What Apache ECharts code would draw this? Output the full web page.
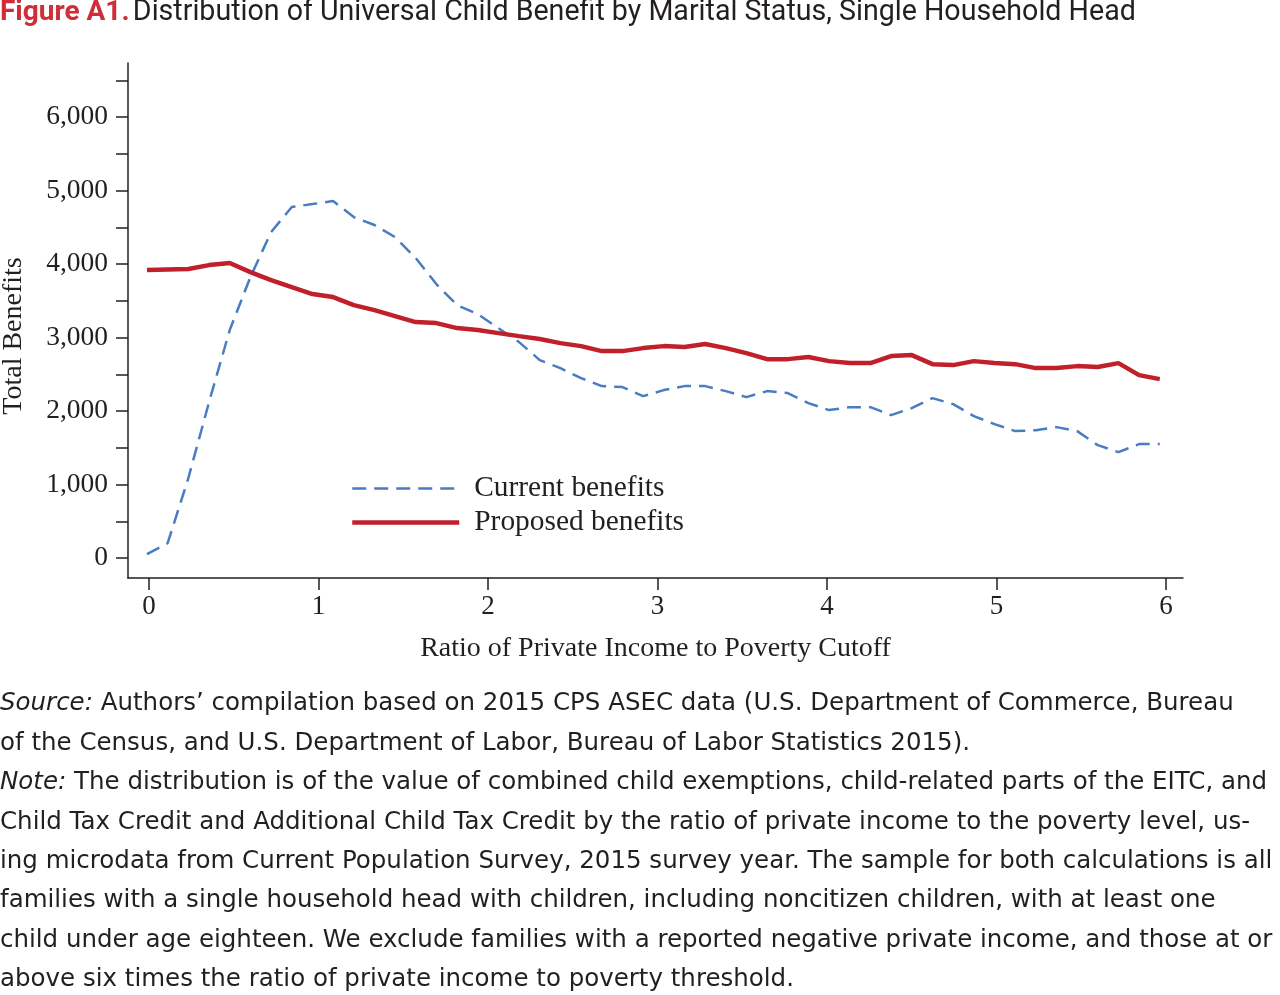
<!DOCTYPE html>
<html>
<head>
<meta charset="utf-8">
<script src="https://cdn.jsdelivr.net/npm/echarts@6/dist/echarts.min.js"></script>
<style>
html,body{margin:0;padding:0;background:#fff;}
#chart{width:1280px;height:995px;}
</style>
</head>
<body>
<div id="chart"></div>
<script>
// Ratio of private income to poverty cutoff (x positions of the plotted bins)
const ratio = [-0.012,0.110,0.232,0.354,0.476,0.598,0.720,0.842,0.964,1.086,
  1.208,1.330,1.451,1.573,1.695,1.817,1.939,2.061,2.183,2.305,
  2.427,2.549,2.671,2.793,2.915,3.037,3.159,3.281,3.403,3.524,
  3.646,3.768,3.890,4.012,4.134,4.256,4.378,4.500,4.622,4.744,
  4.866,4.988,5.110,5.232,5.354,5.476,5.597,5.719,5.841,5.963];
const currentBenefits = [54,204,1088,2122,3102,3823,4435,4776,4816,4857,
  4639,4531,4367,4082,3728,3442,3320,3129,2939,2694,
  2585,2449,2340,2327,2204,2286,2340,2340,2272,2190,
  2272,2245,2109,2014,2054,2054,1946,2041,2177,2095,
  1932,1823,1728,1741,1782,1728,1537,1442,1551,1551];
const proposedBenefits = [3918,3925,3932,3986,4014,3891,3782,3687,3592,3551,
  3442,3374,3293,3211,3197,3129,3102,3061,3020,2980,
  2925,2884,2816,2816,2857,2884,2871,2912,2857,2789,
  2707,2707,2735,2680,2653,2653,2748,2762,2639,2626,
  2680,2653,2639,2585,2585,2612,2599,2653,2490,2435];
const xTicks = [0,1,2,3,4,5,6];
const yLabels = [0,1000,2000,3000,4000,5000,6000];
const yTicks = [0,500,1000,1500,2000,2500,3000,3500,4000,4500,5000,5500,6000,6500];
const seriesNames = ['Current benefits','Proposed benefits'];
const titleBold = 'Figure A1.';
const titleText = 'Distribution of Universal Child Benefit by Marital Status, Single Household Head';
const xName = 'Ratio of Private Income to Poverty Cutoff';
const yName = 'Total Benefits';
const noteLines = [
  ['Source:', ' Authors’ compilation based on 2015 CPS ASEC data (U.S. Department of Commerce, Bureau'],
  ['', 'of the Census, and U.S. Department of Labor, Bureau of Labor Statistics 2015).'],
  ['Note:', ' The distribution is of the value of combined child exemptions, child-related parts of the EITC, and'],
  ['', 'Child Tax Credit and Additional Child Tax Credit by the ratio of private income to the poverty level, us-'],
  ['', 'ing microdata from Current Population Survey, 2015 survey year. The sample for both calculations is all'],
  ['', 'families with a single household head with children, including noncitizen children, with at least one'],
  ['', 'child under age eighteen. We exclude families with a reported negative private income, and those at or'],
  ['', 'above six times the ratio of private income to poverty threshold.']
];

const serif = '"Liberation Serif", "DejaVu Serif", serif';
const sans = '"DejaVu Sans", "Open Sans", sans-serif';
const titleSans = 'Roboto, "Noto Sans", sans-serif';

const chart = echarts.init(document.getElementById('chart'), null, {renderer:'canvas'});

const noteGraphics = noteLines.map((l, i) => ({
  type: 'text',
  x: 0,
  y: 704 + i * 39.4,
  style: {
    text: (l[0] ? '{i|' + l[0] + '}' : '') + '{n|' + l[1] + '}',
    verticalAlign: 'middle',
    rich: {
      i: {fontFamily: sans, fontSize: 24.5, fontStyle: 'italic', fill: '#231f20'},
      n: {fontFamily: sans, fontSize: 24.5, fill: '#231f20'}
    }
  }
}));

chart.setOption({
  animation: false,
  backgroundColor: '#fff',
  grid: {left: 128, right: 97, top: 63, bottom: 417, containLabel: false, outerBoundsMode: 'none'},
  legend: {
    orient: 'vertical',
    left: 350, top: 474,
    padding: 0,
    itemWidth: 107, itemHeight: 14, itemGap: 5,
    itemStyle: {color: 'rgba(0,0,0,0)', borderWidth: 0, opacity: 0},
    lineStyle: {width: 'inherit'},
    textStyle: {fontFamily: serif, fontSize: 29.4, color: '#231f20', padding: [0,0,0,10]},
    data: seriesNames
  },
  xAxis: {
    type: 'value',
    min: -0.124, max: 6.1,
    name: xName, nameLocation: 'middle', nameGap: 57, nameMoveOverlap: false,
    nameTextStyle: {fontFamily: serif, fontSize: 28, color: '#231f20'},
    axisLine: {show: true, onZero: false, lineStyle: {color: '#231f20', width: 1.5}},
    axisTick: {show: true, length: 12, lineStyle: {color: '#231f20', width: 1.5}, customValues: xTicks},
    axisLabel: {fontFamily: serif, fontSize: 27, color: '#231f20', margin: 15, customValues: xTicks},
    splitLine: {show: false}
  },
  yAxis: {
    type: 'value',
    min: -270, max: 6735,
    axisLine: {show: true, onZero: false, lineStyle: {color: '#231f20', width: 1.5}},
    axisTick: {show: true, length: 12, lineStyle: {color: '#231f20', width: 1.5}, customValues: yTicks},
    axisLabel: {fontFamily: serif, fontSize: 27.5, color: '#231f20', margin: 20, customValues: yLabels,
      formatter: v => v.toLocaleString('en-US')},
    splitLine: {show: false}
  },
  series: [
    {
      name: seriesNames[0], type: 'line', symbol: 'none',
      data: ratio.map((x, i) => [x, currentBenefits[i]]),
      lineStyle: {color: '#4a7cc0', width: 2.5, type: [14, 8]},
      itemStyle: {color: '#4a7cc0'},
      z: 2
    },
    {
      name: seriesNames[1], type: 'line', symbol: 'none',
      data: ratio.map((x, i) => [x, proposedBenefits[i]]),
      lineStyle: {color: '#c1202b', width: 4.5},
      itemStyle: {color: '#c1202b'},
      z: 3
    }
  ],
  graphic: [{
    type: 'text', x: 0, y: 13,
    style: {
      text: '{a|' + titleBold + '} {b|' + titleText + '}',
      verticalAlign: 'middle',
      rich: {
        a: {fontFamily: titleSans, fontSize: 28, fontWeight: 'bold', fill: '#cf2e38'},
        b: {fontFamily: titleSans, fontSize: 28.6, fontWeight: 'normal', fill: '#231f20'}
      }
    }
  }, {
    type: 'text', x: 14, y: 336, rotation: Math.PI / 2,
    style: {
      text: yName, align: 'center', verticalAlign: 'middle',
      fontFamily: serif, fontSize: 28, fill: '#231f20'
    }
  }].concat(noteGraphics)
});
</script>
</body>
</html>
